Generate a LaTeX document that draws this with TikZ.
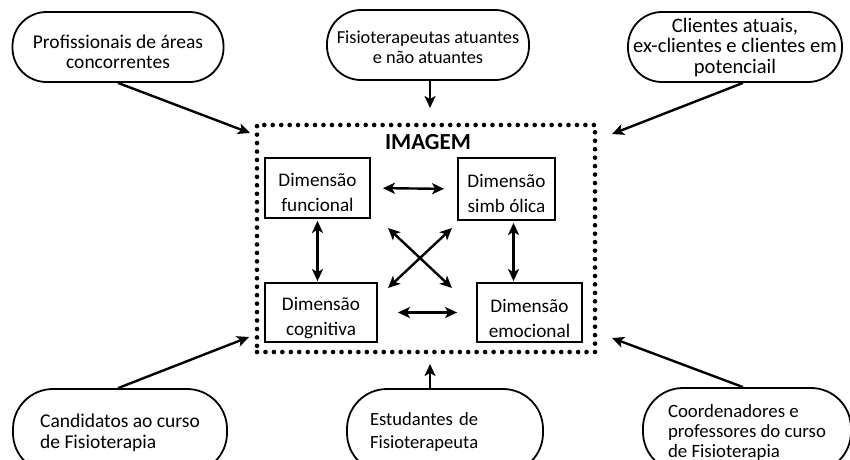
\documentclass[tikz,border=0pt]{standalone}
\usepackage{fontspec}
\setmainfont{Carlito}
\usetikzlibrary{arrows.meta,calc}
\begin{document}
\begin{tikzpicture}[x=1pt,y=-1pt,
 pill/.style={draw,line width=1.8pt,rounded corners=34pt,inner sep=0pt},
 dimbox/.style={draw,line width=1.8pt,inner sep=0pt,align=center,font=\fontsize{19.2}{25}\selectfont},
 tip/.tip={Stealth[length=12pt,width=11pt,inset=3pt]},
 arr/.style={line width=2.4pt,-tip},
 darr/.style={line width=2.4pt,tip-tip},
 dotbox/.style={draw,line width=4.6pt,line cap=round,dash pattern=on 0pt off 8.45pt,minimum width=338pt,minimum height=227pt,inner sep=0pt}]
\useasboundingbox (0,0) rectangle (850,459);
% source pills
\node[pill,minimum width=211pt,minimum height=70pt,align=center,font=\fontsize{19.5}{20}\selectfont,text height=46pt,text depth=4pt] (tl) at (118,47) {Profissionais de áreas\\concorrentes};
\node[pill,minimum width=202pt,minimum height=70pt,align=center,font=\fontsize{18.3}{20}\selectfont,text height=43pt,text depth=7pt] (tm) at (428,45) {Fisioterapeutas atuantes\\e não atuantes};
\node[pill,minimum width=214pt,minimum height=70pt,align=center,font=\fontsize{20.6}{20.5}\selectfont,text height=55pt,text depth=3pt] (tr) at (735,47) {Clientes atuais,\\ex-clientes e clientes em\\potenciail};
\node[pill,rounded corners=40pt,minimum width=214pt,minimum height=84pt,align=left,font=\fontsize{19.5}{21}\selectfont,text height=42pt,text depth=8pt] (bl) at (120,431) {Candidatos ao curso\\de Fisioterapia};
\node[pill,rounded corners=40pt,text width=150pt,inner xsep=23pt,minimum height=84pt,align=left,font=\fontsize{18.6}{23}\selectfont,text height=19pt,text depth=31pt] (bm) at (445,431) {Estudantes de\\Fisioterapeuta};
\node[pill,rounded corners=40pt,minimum width=208pt,minimum height=84pt,align=left,font=\fontsize{18.8}{20}\selectfont,text height=55pt,text depth=1pt] (br) at (747,430) {Coordenadores e\\professores do curso\\de Fisioterapia};
% image frame
\node[dotbox] (img) at (426,238.5) {};
\node[font=\bfseries\fontsize{23}{28}\selectfont] (title) at (428,142) {IMAGEM};
% dimensions
\node[dimbox,minimum width=105pt,minimum height=60pt,text height=48pt,text depth=2pt] (f) at (317.5,188) {Dimensão\\funcional};
\node[dimbox,minimum width=97pt,minimum height=62pt,text height=48pt,text depth=2pt] (s) at (506.5,189) {Dimensão\\simb ólica};
\node[dimbox,minimum width=112pt,minimum height=59pt,text height=47.5pt,text depth=2.5pt] (c) at (321,312.5) {Dimensão\\cognitiva};
\node[dimbox,minimum width=105pt,minimum height=59pt,text height=49.5pt,text depth=0.5pt] (e) at (529.5,312.5) {Dimensão\\emocional};
% outer arrow ends
\coordinate (a1) at (250,133);
\coordinate (a2) at (430,108);
\coordinate (a3) at (612,134);
\coordinate (a4) at (249,337);
\coordinate (a5) at (430,364);
\coordinate (a6) at (612,338);
\draw[arr] (tl.south) -- (a1);
\draw[arr] ($(tm.south)+(2,0)$) -- (a2);
\draw[arr] ($(tr.south)+(8,0)$) -- (a3);
\draw[arr] ($(bl.north)+(-2,0)$) -- (a4);
\draw[arr] ($(bm.north)+(-15,0)$) -- (a5);
\draw[arr] ($(br.north)+(-4,0)$) -- (a6);
% inner arrows
\coordinate (sb) at ($(s.south)+(7,0)$);
\draw[darr,shorten <=12pt,shorten >=13pt] (f.east) -- (s.west);
\draw[darr,shorten <=20pt,shorten >=19pt] (c.east) -- (e.west);
\draw[darr,shorten <=2pt,shorten >=1pt] (f.south) -- (f.south |- c.north);
\draw[darr,shorten <=2pt,shorten >=1pt] (sb) -- (sb |- e.north);
\coordinate (x1) at (388,228);
\coordinate (x2) at (452,288);
\coordinate (x3) at (452,228);
\coordinate (x4) at (388,288);
\draw[darr] (x1) -- (x2);
\draw[darr] (x3) -- (x4);
\end{tikzpicture}
\end{document}
